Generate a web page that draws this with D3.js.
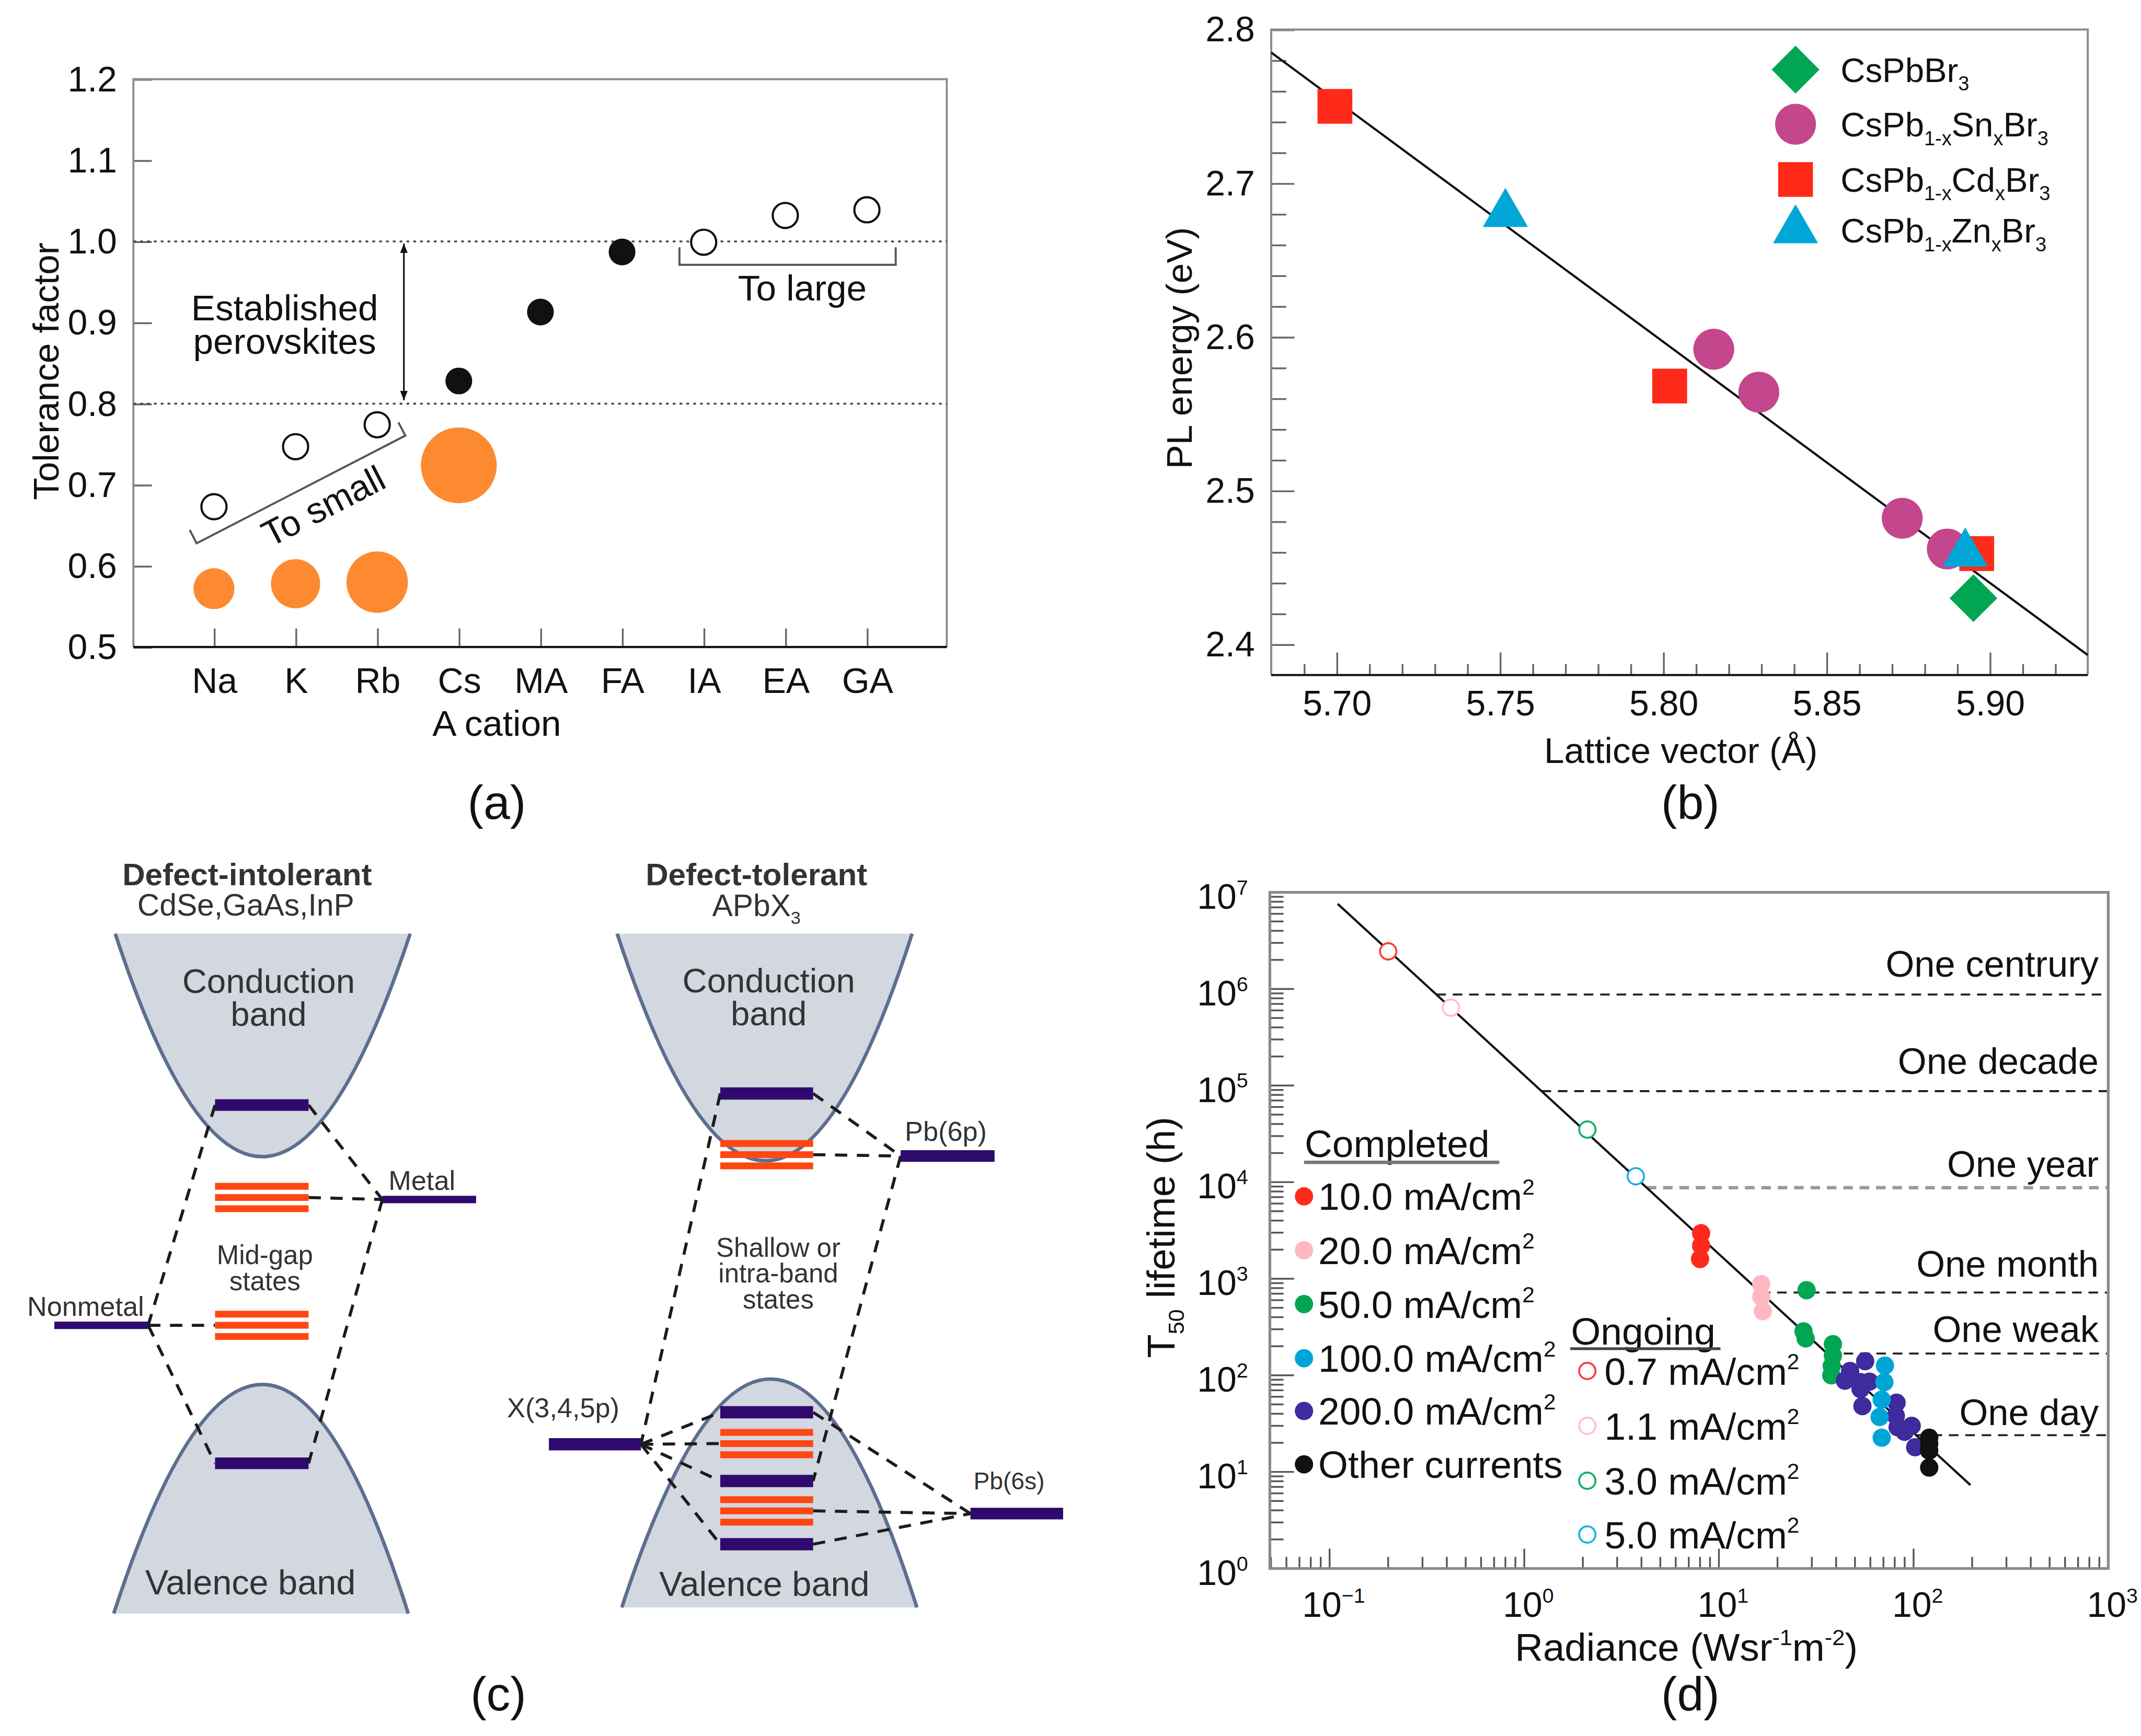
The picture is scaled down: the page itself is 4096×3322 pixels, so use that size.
<!DOCTYPE html>
<html>
<head>
<meta charset="utf-8">
<script src="https://cdn.jsdelivr.net/npm/d3@7"></script>
<style>
html, body { margin: 0; padding: 0; background: #fff; }
svg { display: block; }
</style>
</head>
<body>
<div id="chart"></div>
<script>
var FONT = "'Liberation Sans', Arial, Helvetica, sans-serif";

// ---- (a) tolerance factor of A cations ----
var cations = ['Na', 'K', 'Rb', 'Cs', 'MA', 'FA', 'IA', 'EA', 'GA'];
var tolTicks = [0.5, 0.6, 0.7, 0.8, 0.9, 1.0, 1.1, 1.2];
var establishedRange = [0.8, 1.0];
var stableCations = ['Cs', 'MA', 'FA'];
var stableTol = [0.828, 0.913, 0.987];
var unstableCations = ['Na', 'K', 'Rb', 'IA', 'EA', 'GA'];
var unstableTol = [0.673, 0.747, 0.774, 0.999, 1.032, 1.039];
var bubbleCations = ['Na', 'K', 'Rb', 'Cs'];
var bubbleTol = [0.572, 0.578, 0.580, 0.724];
var bubbleRel = [1.0, 1.2, 1.5, 1.85];

// ---- (b) PL energy vs lattice vector ----
var latticeTicks = [5.70, 5.75, 5.80, 5.85, 5.90];
var plTicks = [2.4, 2.5, 2.6, 2.7, 2.8];
var pbLattice = [5.895], pbPL = [2.430];
var snLattice = [5.8155, 5.8293, 5.8732, 5.887], snPL = [2.592, 2.564, 2.482, 2.462];
var cdLattice = [5.6995, 5.802, 5.896], cdPL = [2.750, 2.568, 2.459];
var znLattice = [5.7517, 5.8925], znPL = [2.680, 2.459];
var fitLattice = [5.68, 5.93], fitPL = [2.785, 2.393];

// ---- (c) schematic energy levels (arbitrary units, 0 = bottom of picture) ----
var intolerantBand = [10.0, 6.72, 3.37, 0.0];   // CB edge, CB min, VB max, VB edge
var intolerantLevels = [7.48, 2.21];
var intolerantMidGap = [6.12, 4.24];
var metalE = 6.09, nonmetalE = 4.24;
var tolerantBand = [10.0, 6.66, 3.45, 0.09];
var tolerantLevels = [7.65, 2.96, 1.95, 1.02];
var tolerantShallow = [6.75, 2.50, 1.51];
var pb6pE = 6.73, xpE = 2.49, pb6sE = 1.47;

// ---- (d) T50 lifetime vs radiance ----
var radianceTicks = [0.1, 1, 10, 100, 1000];
var lifetimeTicks = [1, 10, 100, 1e3, 1e4, 1e5, 1e6, 1e7];
var rad10 = [8.1, 8.1, 8.0], life10 = [2960, 2200, 1600];
var rad20 = [16.5, 16.5, 16.8], life20 = [880, 650, 460];
var rad50 = [28.2, 27.2, 27.9, 38.5, 38.5, 38.0, 37.8], life50 = [760, 285, 241, 210, 160, 125, 100];
var rad100 = [71.3, 70.8, 68.6, 66.9, 68.6], life100 = [126, 85, 56, 37, 22.6];
var rad200 = [56.4, 47.2, 44.4, 53.4, 59.3, 53.4, 54.6, 81.8, 81.1, 82.8, 97.8, 89.9, 101.9];
var life200 = [140, 111, 88, 85, 86, 72, 48, 52, 38, 29, 30, 26, 18];
var radOther = [120.3, 120.3, 120.3, 120.3], lifeOther = [22.6, 19.5, 16.6, 11.1];
var completedLabels = ['10.0 mA/cm', '20.0 mA/cm', '50.0 mA/cm', '100.0 mA/cm', '200.0 mA/cm', 'Other currents'];
var ongoingRad = [0.20, 0.42, 2.11, 3.74], ongoingLife = [2.45e6, 6.4e5, 3.5e4, 1.15e4];
var ongoingLabels = ['0.7 mA/cm', '1.1 mA/cm', '3.0 mA/cm', '5.0 mA/cm'];
var fitRad = [0.11, 196], fitLife = [7.6e6, 7.3];
var refHours = [876000, 87600, 8760, 720, 168, 24];
var refNames = ['One centrury', 'One decade', 'One year', 'One month', 'One weak', 'One day'];

var K = 4096 / 1568;
var svg = d3.select('#chart').append('svg')
  .attr('width', 4096).attr('height', 3322)
  .attr('font-family', FONT);
svg.append('rect').attr('width', 4096).attr('height', 3322).attr('fill', '#fff');
var defs = svg.append('defs');
defs.append('marker').attr('id', 'arr').attr('viewBox', '0 0 10 10')
  .attr('refX', 10).attr('refY', 5).attr('markerWidth', 7).attr('markerHeight', 8)
  .attr('markerUnits', 'userSpaceOnUse').attr('orient', 'auto-start-reverse')
  .append('path').attr('d', 'M0,1 L10,5 L0,9 Z').attr('fill', '#111');
var root = svg.append('g').attr('transform', 'scale(' + K + ')');

function styleAxis(g, fs) {
  g.attr('font-family', FONT).attr('font-size', fs);
  g.select('.domain').remove();
  g.selectAll('.tick line').attr('stroke', '#666').attr('stroke-width', 1.3);
  g.selectAll('.tick text').attr('fill', '#111');
}

function rich(sel, parts, fs) {
  var shift = 0;
  parts.forEach(function (p) {
    var s = typeof p === 'string' ? p : p[0];
    var kind = typeof p === 'string' ? '' : p[1];
    var target = kind === 'sub' ? fs * 0.25 : kind === 'sup' ? -fs * 0.4 : 0;
    sel.append('tspan').attr('dy', target - shift).attr('font-size', kind ? fs * 0.58 : fs).text(s);
    shift = target;
  });
  return sel;
}

function label(g, x, y, txt, fs, anchor) {
  return g.append('text').attr('x', x).attr('y', y).attr('font-size', fs)
    .attr('text-anchor', anchor || 'middle').attr('fill', '#111').text(txt);
}

// ================= (a) =================
var gA = root.append('g');
var xA = d3.scalePoint().domain(cations).range([156.7, 634.9]);
var yA = d3.scaleLinear().domain([0.5, 1.2]).range([474, 58]);
var LA = 97.7, RA = 693.4;

gA.append('g').attr('transform', 'translate(' + LA + ',0)')
  .call(d3.axisLeft(yA).tickValues(tolTicks).tickFormat(d3.format('.1f')).tickSize(-13.5).tickPadding(12))
  .call(styleAxis, 26);
gA.append('g').attr('transform', 'translate(0,' + yA(0.5) + ')')
  .call(d3.axisBottom(xA).tickSize(-13.6).tickPadding(15))
  .call(styleAxis, 26);

gA.append('path')
  .attr('d', 'M' + LA + ',' + yA(0.5) + 'V' + yA(1.2) + 'H' + RA + 'V' + yA(0.5))
  .attr('fill', 'none').attr('stroke', '#8c8c8c').attr('stroke-width', 1.5);
gA.append('line').attr('x1', LA).attr('x2', RA).attr('y1', yA(0.5)).attr('y2', yA(0.5))
  .attr('stroke', '#111').attr('stroke-width', 1.6);

gA.selectAll('line.dot').data(establishedRange).enter().append('line')
  .attr('x1', LA).attr('x2', RA).attr('y1', yA).attr('y2', yA)
  .attr('stroke', '#444').attr('stroke-width', 1.3).attr('stroke-dasharray', '2,3');

gA.selectAll('circle.bub').data(bubbleCations).enter().append('circle')
  .attr('cx', function (d) { return xA(d); })
  .attr('cy', function (d, i) { return yA(bubbleTol[i]); })
  .attr('r', function (d, i) { return 15 * bubbleRel[i]; })
  .attr('fill', '#fd8a30');
gA.selectAll('circle.st').data(stableCations).enter().append('circle')
  .attr('cx', function (d) { return xA(d); })
  .attr('cy', function (d, i) { return yA(stableTol[i]); })
  .attr('r', 9.8).attr('fill', '#111');
gA.selectAll('circle.un').data(unstableCations).enter().append('circle')
  .attr('cx', function (d) { return xA(d); })
  .attr('cy', function (d, i) { return yA(unstableTol[i]); })
  .attr('r', 9.2).attr('fill', '#fff').attr('stroke', '#111').attr('stroke-width', 1.6);

gA.append('line').attr('x1', 295.8).attr('x2', 295.8).attr('y1', yA(1.0) + 1.5).attr('y2', yA(0.8) - 2.5)
  .attr('stroke', '#111').attr('stroke-width', 1.2)
  .attr('marker-start', 'url(#arr)').attr('marker-end', 'url(#arr)');
label(gA, 208.5, 234.5, 'Established', 26.5);
label(gA, 208.5, 259, 'perovskites', 26.5);

gA.append('path').attr('d', 'M497.6,181.2V194H656V181.2')
  .attr('fill', 'none').attr('stroke', '#555').attr('stroke-width', 1.5);
label(gA, 587.6, 220, 'To large', 26.5);

var small = gA.append('g').attr('transform', 'translate(144,398) rotate(-27.3)');
small.append('path').attr('d', 'M0,-11V0H172V-11')
  .attr('fill', 'none').attr('stroke', '#555').attr('stroke-width', 1.5);
label(small, 95, 27.5, 'To small', 26.5);

label(gA, 363.8, 539, 'A cation', 26.5);
gA.append('text').attr('transform', 'translate(43,272) rotate(-90)')
  .attr('text-anchor', 'middle').attr('font-size', 26.5).attr('fill', '#111').text('Tolerance factor');
label(gA, 363.8, 600, '(a)', 35);

// ================= (b) =================
var gB = root.append('g');
var xB = d3.scaleLinear().domain([5.68, 5.93]).range([931, 1529]);
var yB = d3.scaleLinear().domain([2.38, 2.8]).range([494.5, 21.6]);
function inList(list) {
  return function (d) { return list.some(function (v) { return Math.abs(v - d) < 1e-6; }); };
}
var majorLat = inList(latticeTicks), majorPL = inList(plTicks);

gB.append('g').attr('transform', 'translate(0,' + yB(2.38) + ')')
  .call(d3.axisBottom(xB).tickValues(xB.ticks(25).slice(1, -1)).tickSize(-8).tickPadding(11)
    .tickFormat(function (d) { return majorLat(d) ? d3.format('.2f')(d) : ''; }))
  .call(styleAxis, 26)
  .call(function (g) { g.selectAll('.tick line').filter(majorLat).attr('y2', -16.5); });
gB.append('g').attr('transform', 'translate(' + xB(5.68) + ',0)')
  .call(d3.axisLeft(yB).tickValues(yB.ticks(21).slice(1)).tickSize(-11).tickPadding(12)
    .tickFormat(function (d) { return majorPL(d) ? d3.format('.1f')(d) : ''; }))
  .call(styleAxis, 26)
  .call(function (g) { g.selectAll('.tick line').filter(majorPL).attr('x2', 17); });

gB.append('path')
  .attr('d', 'M' + xB(5.68) + ',' + yB(2.38) + 'V' + yB(2.8) + 'H' + xB(5.93) + 'V' + yB(2.38))
  .attr('fill', 'none').attr('stroke', '#8c8c8c').attr('stroke-width', 1.5);
gB.append('line').attr('x1', xB(5.68)).attr('x2', xB(5.93)).attr('y1', yB(2.38)).attr('y2', yB(2.38))
  .attr('stroke', '#111').attr('stroke-width', 1.6);

gB.append('path')
  .attr('d', d3.line()(fitLattice.map(function (v, i) { return [xB(v), yB(fitPL[i])]; })))
  .attr('stroke', '#111').attr('stroke-width', 1.6).attr('fill', 'none');

var symDiamond = d3.symbol().type(d3.symbolSquare).size(611)();
var symCircle = d3.symbol().type(d3.symbolCircle).size(707)();
var symSquare = d3.symbol().type(d3.symbolSquare).size(650)();
var symTriangle = d3.symbol().type(d3.symbolTriangle).size(472)();
var seriesB = [
  { xs: cdLattice, ys: cdPL, path: symSquare, rot: 0, color: '#ff2a1a' },
  { xs: snLattice, ys: snPL, path: symCircle, rot: 0, color: '#c4468c' },
  { xs: znLattice, ys: znPL, path: symTriangle, rot: 0, color: '#00a6d6' },
  { xs: pbLattice, ys: pbPL, path: symDiamond, rot: 45, color: '#00a651' }
];
seriesB.forEach(function (s) {
  gB.selectAll(null).data(s.xs).enter().append('path')
    .attr('d', s.path).attr('fill', s.color)
    .attr('transform', function (d, i) {
      return 'translate(' + xB(d) + ',' + yB(s.ys[i]) + ') rotate(' + s.rot + ')';
    });
});

var legendB = [
  { path: symDiamond, rot: 45, color: '#00a651', parts: ['CsPbBr', ['3', 'sub']] },
  { path: symCircle, rot: 0, color: '#c4468c', parts: ['CsPb', ['1-x', 'sub'], 'Sn', ['x', 'sub'], 'Br', ['3', 'sub']] },
  { path: symSquare, rot: 0, color: '#ff2a1a', parts: ['CsPb', ['1-x', 'sub'], 'Cd', ['x', 'sub'], 'Br', ['3', 'sub']] },
  { path: symTriangle, rot: 0, color: '#00a6d6', parts: ['CsPb', ['1-x', 'sub'], 'Zn', ['x', 'sub'], 'Br', ['3', 'sub']] }
];
var legYB = [51, 91, 131.5, 168.7];
legendB.forEach(function (l, i) {
  gB.append('path').attr('d', l.path).attr('fill', l.color)
    .attr('transform', 'translate(1315,' + legYB[i] + ') rotate(' + l.rot + ')');
  rich(gB.append('text').attr('x', 1348).attr('y', legYB[i] + 9).attr('fill', '#111'), l.parts, 25);
});

label(gB, 1231, 559, 'Lattice vector (\u00C5)', 26.5);
gB.append('text').attr('transform', 'translate(873,255) rotate(-90)')
  .attr('text-anchor', 'middle').attr('font-size', 26.5).attr('fill', '#111').text('PL energy (eV)');
label(gB, 1238, 600, '(b)', 35);

// ================= (c) =================
var gC = root.append('g');
var eC = d3.scaleLinear().domain([0, 10]).range([1182, 684]);
var BAND_FILL = '#d3d7df', BAND_LINE = '#5c6f8f', LEVEL = '#2f0a6e', SHALLOW = '#ff4711';

function bandCurve(x0, x1, xv, eEdge, eVertex) {
  var yE = eC(eEdge), yV = eC(eVertex);
  var xc = 2 * xv - (x0 + x1) / 2, yc = 2 * yV - yE;
  return 'M' + x0 + ',' + yE + ' Q' + xc + ',' + yc + ' ' + x1 + ',' + yE;
}
function drawBand(x0, x1, xv, eEdge, eVertex) {
  var d = bandCurve(x0, x1, xv, eEdge, eVertex);
  gC.append('path').attr('d', d + ' Z').attr('fill', BAND_FILL);
  gC.append('path').attr('d', d).attr('fill', 'none').attr('stroke', BAND_LINE).attr('stroke-width', 2.6);
}
function drawDashes(list) {
  list.forEach(function (s) {
    gC.append('line').attr('x1', s[0]).attr('y1', eC(s[1])).attr('x2', s[2]).attr('y2', eC(s[3]))
      .attr('stroke', '#1b1b1b').attr('stroke-width', 2.2).attr('stroke-dasharray', '9,7');
  });
}
function drawLevel(xr, e, w) {
  gC.append('line').attr('x1', xr[0]).attr('x2', xr[1]).attr('y1', eC(e)).attr('y2', eC(e))
    .attr('stroke', LEVEL).attr('stroke-width', w);
}
function drawShallow(xr, e) {
  [-8.2, 0, 8.2].forEach(function (o) {
    gC.append('line').attr('x1', xr[0]).attr('x2', xr[1]).attr('y1', eC(e) + o).attr('y2', eC(e) + o)
      .attr('stroke', SHALLOW).attr('stroke-width', 5);
  });
}
function ctext(x, y, txt, fs, weight) {
  return gC.append('text').attr('x', x).attr('y', y).attr('text-anchor', 'middle')
    .attr('font-size', fs).attr('font-weight', weight || 'normal').attr('fill', '#333').text(txt);
}

// left: defect-intolerant
var L = { cb: [84.4, 300.4], vb: [83.3, 299], vx: 192, lvl: [157.5, 226], metal: [280, 348.7], nonmetal: [39.8, 108.5] };
drawBand(L.cb[0], L.cb[1], L.vx, intolerantBand[0], intolerantBand[1]);
drawBand(L.vb[0], L.vb[1], L.vx, intolerantBand[3], intolerantBand[2]);
drawDashes([
  [L.lvl[0], intolerantLevels[0], L.nonmetal[1], nonmetalE],
  [L.nonmetal[1], nonmetalE, L.lvl[0], intolerantLevels[1]],
  [L.lvl[1], intolerantLevels[0], L.metal[0], metalE],
  [L.metal[0], metalE, L.lvl[1], intolerantLevels[1]],
  [L.lvl[1], intolerantMidGap[0], L.metal[0], metalE],
  [L.nonmetal[1], nonmetalE, L.lvl[0], intolerantMidGap[1]]
]);
intolerantLevels.forEach(function (e) { drawLevel(L.lvl, e, 8.5); });
intolerantMidGap.forEach(function (e) { drawShallow(L.lvl, e); });
drawLevel(L.metal, metalE, 5.5);
drawLevel(L.nonmetal, nonmetalE, 5.5);

ctext(181, 648.5, 'Defect-intolerant', 23, 'bold');
ctext(180, 670.5, 'CdSe,GaAs,InP', 22.5);
ctext(196.7, 727.5, 'Conduction', 25);
ctext(196.7, 751.5, 'band', 25);
ctext(183.4, 1168, 'Valence band', 25.5);
ctext(194, 926, 'Mid-gap', 19.5);
ctext(194, 945, 'states', 19.5);
ctext(309, 871.5, 'Metal', 20);
ctext(62.7, 964, 'Nonmetal', 20);

// right: defect-tolerant
var R = { cb: [452, 668], vxC: 560.6, vb: [455.4, 671.5], vxV: 564.3, lvl: [527.5, 595.5],
  pb6p: [659.6, 728.4], xp: [402, 469.4], pb6s: [710.7, 778.6] };
drawBand(R.cb[0], R.cb[1], R.vxC, tolerantBand[0], tolerantBand[1]);
drawBand(R.vb[0], R.vb[1], R.vxV, tolerantBand[3], tolerantBand[2]);
drawDashes([
  [R.lvl[0], tolerantLevels[0], R.xp[1], xpE],
  [R.lvl[1], tolerantLevels[0], R.pb6p[0], pb6pE],
  [R.lvl[1], tolerantShallow[0], R.pb6p[0], pb6pE],
  [R.pb6p[0], pb6pE, R.lvl[1], tolerantLevels[2]],
  [R.xp[1], xpE, R.lvl[0], tolerantLevels[1]],
  [R.xp[1], xpE, R.lvl[0], tolerantShallow[1]],
  [R.xp[1], xpE, R.lvl[0], tolerantLevels[2]],
  [R.xp[1], xpE, R.lvl[0], tolerantLevels[3]],
  [R.lvl[1], tolerantLevels[1], R.pb6s[0], pb6sE],
  [R.lvl[1], tolerantShallow[2], R.pb6s[0], pb6sE],
  [R.lvl[1], tolerantLevels[3], R.pb6s[0], pb6sE]
]);
tolerantLevels.forEach(function (e) { drawLevel(R.lvl, e, 9); });
tolerantShallow.forEach(function (e) { drawShallow(R.lvl, e); });
drawLevel(R.pb6p, pb6pE, 8.5);
drawLevel(R.xp, xpE, 9);
drawLevel(R.pb6s, pb6sE, 8.5);

ctext(554, 648.5, 'Defect-tolerant', 23, 'bold');
rich(gC.append('text').attr('x', 554).attr('y', 671).attr('text-anchor', 'middle').attr('fill', '#333'),
  ['APbX', ['3', 'sub']], 22.5);
ctext(563, 727, 'Conduction', 25);
ctext(563, 751, 'band', 25);
ctext(559.8, 1169, 'Valence band', 25.5);
ctext(570, 920.5, 'Shallow or', 19.5);
ctext(570, 939.5, 'intra-band', 19.5);
ctext(570, 958.5, 'states', 19.5);
ctext(692.7, 835.5, 'Pb(6p)', 20);
ctext(412.5, 1038, 'X(3,4,5p)', 20);
ctext(739, 1091, 'Pb(6s)', 17.7);
gC.append('text').attr('x', 365).attr('y', 1253).attr('text-anchor', 'middle')
  .attr('font-size', 35).attr('fill', '#111').text('(c)');

// ================= (d) =================
var gD = root.append('g');
var xD = d3.scaleLog().domain([Math.pow(10, -1.307), 1000]).range([930, 1544]);
var yD = d3.scaleLog().domain([1, 1e7]).range([1149, 653.7]);
var isPow = function (v) { var l = Math.log10(v); return Math.abs(l - Math.round(l)) < 1e-9; };
var LD = xD.range()[0], RD = xD.range()[1], BD = yD.range()[0], TD = yD.range()[1];

yD.ticks().forEach(function (v) {
  gD.append('line').attr('x1', LD).attr('x2', LD + (isPow(v) ? 17.7 : 10))
    .attr('y1', yD(v)).attr('y2', yD(v)).attr('stroke', '#555').attr('stroke-width', 1.3);
});
xD.ticks().forEach(function (v) {
  gD.append('line').attr('x1', xD(v)).attr('x2', xD(v))
    .attr('y1', BD).attr('y2', BD - (isPow(v) ? 14.5 : 8.5)).attr('stroke', '#555').attr('stroke-width', 1.3);
});
lifetimeTicks.forEach(function (v) {
  rich(gD.append('text').attr('x', 914).attr('y', yD(v) + 12).attr('text-anchor', 'end').attr('fill', '#111'),
    ['10', [String(Math.round(Math.log10(v))), 'sup']], 26);
});
radianceTicks.forEach(function (v) {
  rich(gD.append('text').attr('x', xD(v) + 3).attr('y', 1184.5).attr('text-anchor', 'middle').attr('fill', '#111'),
    ['10', [String(Math.round(Math.log10(v))).replace('-', '\u2212'), 'sup']], 26);
});
gD.append('rect').attr('x', LD).attr('y', TD).attr('width', RD - LD).attr('height', BD - TD)
  .attr('fill', 'none').attr('stroke', '#8a8a8a').attr('stroke-width', 2);

// fit line and reference durations
function fitRadAt(h) {
  var a = Math.log10(fitLife[0]), b = Math.log10(fitLife[1]);
  var t = (Math.log10(h) - a) / (b - a);
  return Math.pow(10, Math.log10(fitRad[0]) + t * (Math.log10(fitRad[1]) - Math.log10(fitRad[0])));
}
var refGap = [13, 12.5, 8, 11.5, 8.5, 7.5];
refHours.forEach(function (h, i) {
  gD.append('line').attr('x1', xD(fitRadAt(h))).attr('x2', RD - 1).attr('y1', yD(h)).attr('y2', yD(h))
    .attr('stroke', i === 2 ? '#9a9a9a' : '#222').attr('stroke-width', i === 2 ? 2.4 : 1.5)
    .attr('stroke-dasharray', '7,5');
  gD.append('text').attr('x', 1537).attr('y', yD(h) - refGap[i]).attr('text-anchor', 'end')
    .attr('font-size', 27).attr('fill', '#111').text(refNames[i]);
});
gD.append('path')
  .attr('d', d3.line()(fitRad.map(function (v, i) { return [xD(v), yD(fitLife[i])]; })))
  .attr('stroke', '#111').attr('stroke-width', 1.6).attr('fill', 'none');

var completedColors = ['#ff2a1c', '#ffb8c2', '#00a651', '#00a5d8', '#3f2a9e', '#111111'];
var completed = [[rad10, life10, 0], [rad20, life20, 1], [rad50, life50, 2],
  [rad200, life200, 4], [rad100, life100, 3], [radOther, lifeOther, 5]];
completed.forEach(function (s) {
  gD.selectAll(null).data(s[0]).enter().append('circle')
    .attr('cx', function (d) { return xD(d); })
    .attr('cy', function (d, i) { return yD(s[1][i]); })
    .attr('r', 6.7).attr('fill', completedColors[s[2]]);
});
var ongoingColors = ['#ff3b3b', '#ffc0c8', '#12b06a', '#15b2e0'];
gD.selectAll('circle.og').data(ongoingRad).enter().append('circle')
  .attr('cx', function (d) { return xD(d); })
  .attr('cy', function (d, i) { return yD(ongoingLife[i]); })
  .attr('r', 6).attr('fill', '#fff').attr('stroke', function (d, i) { return ongoingColors[i]; })
  .attr('stroke-width', 1.4);

// legends
gD.append('text').attr('x', 955.5).attr('y', 847.5).attr('font-size', 28).attr('fill', '#111').text('Completed');
gD.append('line').attr('x1', 955).attr('x2', 1098).attr('y1', 851.5).attr('y2', 851.5)
  .attr('stroke', '#777').attr('stroke-width', 2.5);
var legYD = [876.4, 915.9, 955.3, 995, 1033.6, 1072.7];
completedLabels.forEach(function (t, i) {
  gD.append('circle').attr('cx', 955).attr('cy', legYD[i]).attr('r', 6.7).attr('fill', completedColors[i]);
  var parts = t.slice(-2) === 'cm' ? [t, ['2', 'sup']] : [t];
  rich(gD.append('text').attr('x', 965.5).attr('y', legYD[i] + 10).attr('fill', '#111'), parts, 28);
});
gD.append('text').attr('x', 1150.5).attr('y', 985).attr('font-size', 28).attr('fill', '#111').text('Ongoing');
gD.append('line').attr('x1', 1150).attr('x2', 1260).attr('y1', 988).attr('y2', 988)
  .attr('stroke', '#444').attr('stroke-width', 2);
var legYO = [1004.3, 1044.5, 1084.7, 1124.1];
ongoingLabels.forEach(function (t, i) {
  gD.append('circle').attr('cx', 1162.5).attr('cy', legYO[i]).attr('r', 6)
    .attr('fill', '#fff').attr('stroke', ongoingColors[i]).attr('stroke-width', 1.4);
  rich(gD.append('text').attr('x', 1175).attr('y', legYO[i] + 10).attr('fill', '#111'), [t, ['2', 'sup']], 28);
});

rich(gD.append('text').attr('x', 1235).attr('y', 1216.5).attr('text-anchor', 'middle').attr('fill', '#111'),
  ['Radiance (Wsr', ['-1', 'sup'], 'm', ['-2', 'sup'], ')'], 28.5);
rich(gD.append('text').attr('transform', 'translate(860,906.5) rotate(-90)').attr('text-anchor', 'middle').attr('fill', '#111'),
  ['T', ['50', 'sub'], '  lifetime (h)'], 28.5);
gD.append('text').attr('x', 1238).attr('y', 1253).attr('text-anchor', 'middle')
  .attr('font-size', 35).attr('fill', '#111').text('(d)');
</script>
</body>
</html>
